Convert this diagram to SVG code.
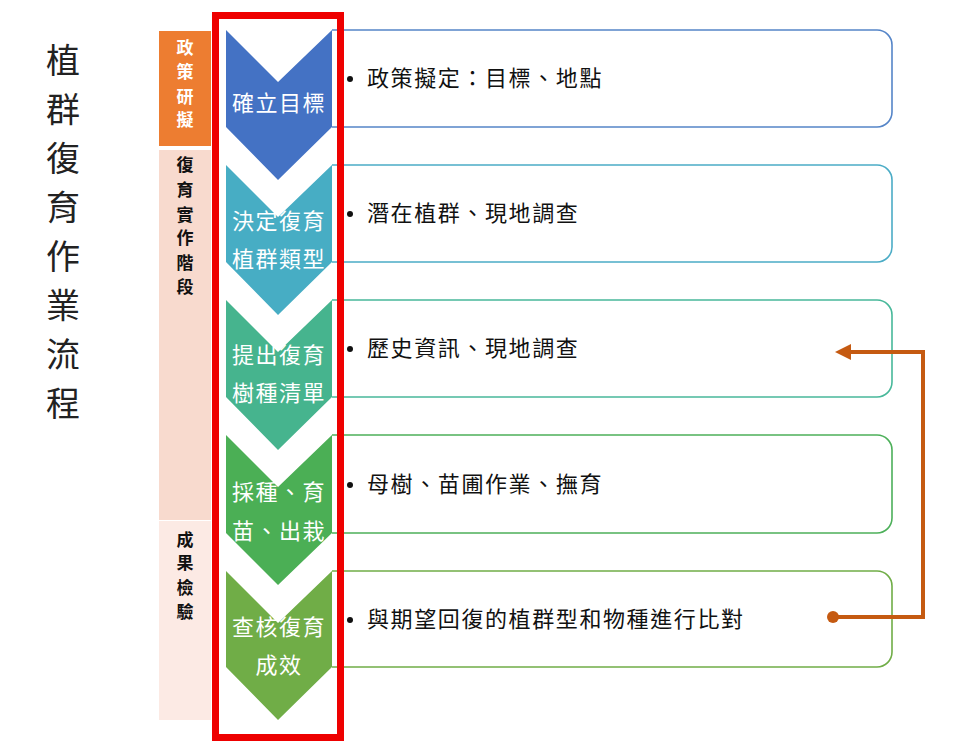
<svg xmlns="http://www.w3.org/2000/svg" width="956" height="755" viewBox="0 0 956 755">
<style>
.title{font-family:"Noto Sans CJK TC","Noto Sans CJK SC",sans-serif;font-size:34px;fill:#222;text-anchor:middle}
.lab{font-family:"Noto Sans CJK TC","Noto Sans CJK SC",sans-serif;font-size:17px;font-weight:bold;text-anchor:middle}
.chv{font-family:"Noto Sans CJK TC","Noto Sans CJK SC",sans-serif;font-size:22px;fill:#fff;text-anchor:middle;letter-spacing:1.5px}
.box{fill:#fff;stroke-width:1.6}
.btxt{font-family:"Noto Sans CJK TC","Noto Sans CJK SC",sans-serif;font-size:22px;fill:#111;letter-spacing:1.6px}
</style>
<rect width="956" height="755" fill="#fff"/>
<g id="title">
<text class="title" x="63" y="73">植</text>
<text class="title" x="63" y="122">群</text>
<text class="title" x="63" y="171">復</text>
<text class="title" x="63" y="220">育</text>
<text class="title" x="63" y="269">作</text>
<text class="title" x="63" y="318">業</text>
<text class="title" x="63" y="367">流</text>
<text class="title" x="63" y="416">程</text>
</g>
<g id="phase1">
<rect x="159" y="31" width="52" height="115" fill="#ED7D31"/>
<g class="lab" fill="#fff">
<text x="185" y="54">政</text><text x="185" y="78">策</text><text x="185" y="103">研</text><text x="185" y="126">擬</text>
</g>
</g>
<g id="phase2">
<rect x="159" y="150" width="52" height="370" fill="#F8DACE"/>
<g class="lab" fill="#111">
<text x="185" y="171">復</text><text x="185" y="196">育</text><text x="185" y="221">實</text><text x="185" y="244">作</text><text x="185" y="269">階</text><text x="185" y="293">段</text>
</g>
</g>
<g id="phase3">
<rect x="159" y="521" width="52" height="199" fill="#FCEAE4"/>
<g class="lab" fill="#111">
<text x="185" y="546">成</text><text x="185" y="569">果</text><text x="185" y="594">檢</text><text x="185" y="618">驗</text>
</g>
</g>
<g id="step1">
<path class="box" d="M332,30 H877 A15,15 0 0 1 892,45 V112 A15,15 0 0 1 877,127 H332" stroke="#5585C8"/>
<polygon points="226,30 278,82 332,30 332,127 278,180 226,127" fill="#4472C4"/>
<text class="chv" x="279" y="111">確立目標</text>
<circle cx="350" cy="79" r="3" fill="#111"/>
<text class="btxt" x="367" y="86">政策擬定：目標、地點</text>
</g>
<g id="step2">
<path class="box" d="M332,165 H877 A15,15 0 0 1 892,180 V247 A15,15 0 0 1 877,262 H332" stroke="#4BACC6"/>
<polygon points="226,165 278,217 332,165 332,262 278,315 226,262" fill="#47ADC4"/>
<text class="chv" x="279" y="229">決定復育</text>
<text class="chv" x="279" y="267">植群類型</text>
<circle cx="350" cy="214" r="3" fill="#111"/>
<text class="btxt" x="367" y="221">潛在植群、現地調查</text>
</g>
<g id="step3">
<path class="box" d="M332,300 H877 A15,15 0 0 1 892,315 V382 A15,15 0 0 1 877,397 H332" stroke="#48B89A"/>
<polygon points="226,300 278,352 332,300 332,397 278,450 226,397" fill="#46B48E"/>
<text class="chv" x="279" y="363">提出復育</text>
<text class="chv" x="279" y="401">樹種清單</text>
<circle cx="350" cy="349" r="3" fill="#111"/>
<text class="btxt" x="367" y="356">歷史資訊、現地調查</text>
</g>
<g id="step4">
<path class="box" d="M332,435 H877 A15,15 0 0 1 892,450 V518 A15,15 0 0 1 877,533 H332" stroke="#4DB05A"/>
<polygon points="226,435 278,487 332,435 332,533 278,585 226,533" fill="#4BAF55"/>
<text class="chv" x="279" y="500">採種、育</text>
<text class="chv" x="279" y="539">苗、出栽</text>
<circle cx="350" cy="485" r="3" fill="#111"/>
<text class="btxt" x="367" y="492">母樹、苗圃作業、撫育</text>
</g>
<g id="step5">
<path class="box" d="M332,571 H877 A15,15 0 0 1 892,586 V652 A15,15 0 0 1 877,667 H332" stroke="#70AD47"/>
<polygon points="226,571 278,623 332,571 332,667 278,720 226,667" fill="#70AD47"/>
<text class="chv" x="279" y="635">查核復育</text>
<text class="chv" x="279" y="673">成效</text>
<circle cx="350" cy="620" r="3" fill="#111"/>
<text class="btxt" x="367" y="627">與期望回復的植群型和物種進行比對</text>
</g>
<g id="highlight">
<rect x="215.5" y="15.5" width="125" height="722" fill="none" stroke="#EE0000" stroke-width="7"/>
</g>
<g id="connectors">
<path d="M833,617 H923 V352 H848" fill="none" stroke="#C55A11" stroke-width="4"/>
<circle cx="833" cy="617" r="6" fill="#C55A11"/>
<polygon points="835,352 851,344 851,360" fill="#C55A11"/>
</g>
</svg>
